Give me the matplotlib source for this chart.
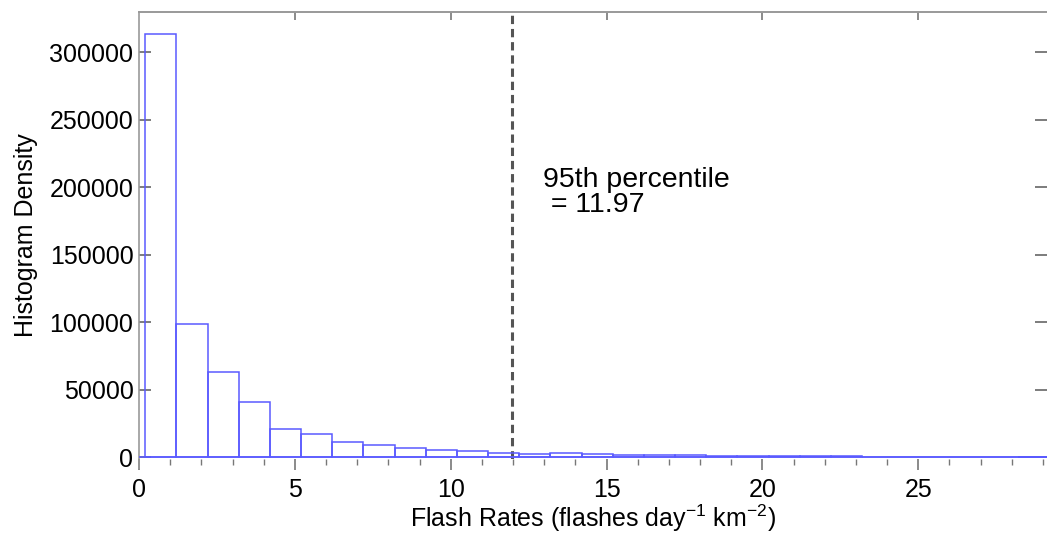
import numpy as np
import matplotlib
matplotlib.use('Agg')
import matplotlib.pyplot as plt

# data
bin_left = [0.2, 1.2, 2.2, 3.2, 4.2, 5.2, 6.2, 7.2, 8.2, 9.2,
            10.2, 11.2, 12.2, 13.2, 14.2, 15.2, 16.2, 17.2, 18.2, 19.2,
            20.2, 21.2, 22.2, 23.2, 24.2, 25.2, 26.2, 27.2, 28.2]
density = [314000, 98800, 63400, 41400, 20800, 17300, 11600, 9100, 7200, 5400,
           4500, 3500, 2600, 3000, 2400, 2000, 1900, 1700, 1300, 1100,
           900, 800, 700, 600, 500, 450, 400, 350, 300]
bin_width = 1.0
p95 = 11.97
xmajor = [0, 5, 10, 15, 20, 25]

plt.rcParams['font.family'] = ['Liberation Sans', 'DejaVu Sans']
plt.rcParams['mathtext.fontset'] = 'custom'
plt.rcParams['mathtext.rm'] = 'Liberation Sans'
plt.rcParams['mathtext.default'] = 'regular'
plt.rcParams['lines.scale_dashes'] = False

fig = plt.figure(figsize=(10.47, 5.35), dpi=100)
ax = fig.add_axes([0.1328, 0.142, 0.8672, 0.8356])

ax.bar(bin_left, density, width=bin_width, align='edge', fill=False,
       edgecolor='#5a5aff', linewidth=1.1, zorder=3)
# histogram baseline runs to the right edge
ax.axhline(0, color='#5a5aff', lw=1.1, zorder=3)
ax.axvline(p95, color='#555555', lw=2.2, dashes=(6, 3.5))

ax.text(12.95, 200500, '95th percentile', fontsize=20.5, va='baseline', ha='left')
ax.text(12.95, 182000, ' = 11.97', fontsize=20.5, va='baseline', ha='left')

ax.set_xlim(0, 29.13)
ax.set_ylim(-1200, 330000)
ax.set_xticks(xmajor)
ax.set_xticks(np.arange(0, 30, 1), minor=True)
ax.set_yticks([0, 50000, 100000, 150000, 200000, 250000, 300000])
ax.tick_params(axis='x', which='major', direction='out', length=8, width=1.2,
               color='#777777', labelsize=18, pad=6)
ax.tick_params(axis='x', which='minor', direction='out', length=4, width=1.0,
               color='#777777')
ax.tick_params(axis='y', direction='in', length=8.5, width=1.2, color='#666666',
               labelsize=18, pad=4, right=True)

# top axis: inward major ticks, no labels
top = ax.secondary_xaxis('top')
top.set_xticks(xmajor[1:])
top.tick_params(direction='in', length=6, width=1.2, color='#777777', labeltop=False)
top.spines['top'].set_color('#999999')
top.spines['top'].set_linewidth(1.2)

for s in ax.spines.values():
    s.set_color('#999999')
    s.set_linewidth(1.2)
ax.spines['bottom'].set_visible(False)
ax.spines['right'].set_visible(False)
ax.spines['left'].set_bounds(-8000, 330000)

ax.set_xlabel('Flash Rates (flashes day$^{-1}$ km$^{-2}$)', fontsize=18, labelpad=0)
ax.set_ylabel('Histogram Density', fontsize=18, labelpad=8)

fig.savefig('out.png', dpi=100)
